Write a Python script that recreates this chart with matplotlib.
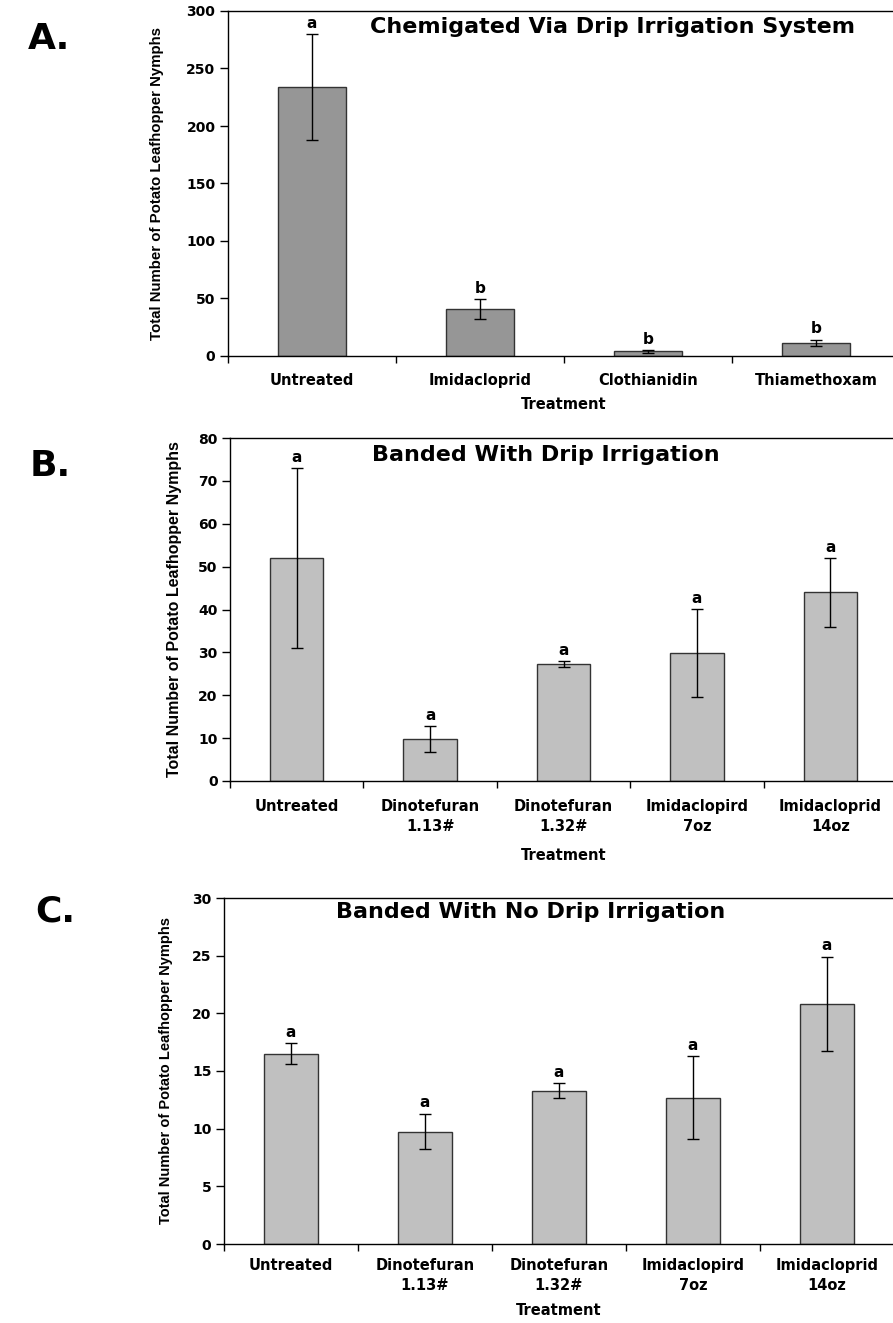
import numpy as np
import matplotlib
matplotlib.use("Agg")
from matplotlib import pyplot as plt

# police large et grasse (le graphique d'origine est etire horizontalement)
plt.rcParams['font.family'] = ['DejaVu Sans']
plt.rcParams['font.weight'] = 'bold'

""" === DONNEES === """
cats_a = ['Untreated', 'Imidacloprid', 'Clothianidin', 'Thiamethoxam']
mean_a = [234, 41, 4, 11.5]
err_a = [46, 8.5, 1.2, 2.5]
let_a = ['a', 'b', 'b', 'b']

cats_bc = ['Untreated', 'Dinotefuran\n1.13#', 'Dinotefuran\n1.32#',
           'Imidaclopird\n7oz', 'Imidacloprid\n14oz']

mean_b = [52, 9.8, 27.2, 29.8, 44]
err_b = [21, 3, 0.7, 10.3, 8]
let_b = ['a', 'a', 'a', 'a', 'a']

mean_c = [16.5, 9.75, 13.3, 12.7, 20.8]
err_c = [0.9, 1.55, 0.65, 3.6, 4.1]
let_c = ['a', 'a', 'a', 'a', 'a']

W, H = 893, 1323
YLAB = 'Total Number of Potato Leafhopper Nymphs'


def box(left, top, right, bottom):
    # pixels -> fraction de figure
    return [left / W, 1 - bottom / H, (right - left) / W, (bottom - top) / H]


def panel(fig, rect, cats, means, errs, letters, ymax, ystep, color,
          title, title_xy, tag, tag_xy, ylab_size, ylab_x, xpad, xlabpad):
    ax = fig.add_axes(rect)
    n = len(cats)
    x = np.arange(n)
    ax.bar(x, means, width=0.4, color=color, edgecolor='#333333', linewidth=1.0, zorder=2)
    ax.errorbar(x, means, yerr=errs, fmt='none', ecolor='black', elinewidth=1.0,
                capsize=4, capthick=1.0, zorder=3)
    for xi, m, e, l in zip(x, means, errs, letters):
        ax.annotate(l, (xi, m + e), xytext=(0, 2.5), textcoords='offset points',
                    ha='center', va='bottom', fontsize=11, fontweight='bold')

    ax.set_xlim(-0.5, n - 0.5)
    ax.set_ylim(0, ymax)
    ax.set_yticks(np.arange(0, ymax + ystep / 2, ystep))
    ax.tick_params(axis='y', direction='out', length=6, width=1, labelsize=10, pad=3)

    ax.set_xticks(np.arange(n + 1) - 0.5)
    ax.set_xticklabels([])
    ax.set_xticks(x, minor=True)
    ax.set_xticklabels(cats, minor=True, fontsize=10.5, fontweight='bold')
    ax.tick_params(axis='x', which='major', direction='out', length=5, width=1)
    ax.tick_params(axis='x', which='minor', length=0, pad=xpad)
    for lab in ax.get_xticklabels(minor=True):
        lab.set_linespacing(1.45)
    for lab in ax.get_yticklabels():
        lab.set_fontweight('bold')

    ax.spines['right'].set_visible(False)
    for s in ['left', 'bottom', 'top']:
        ax.spines[s].set_linewidth(1.0)
        ax.spines[s].set_color('black')

    ax.set_xlabel('Treatment', fontsize=10.5, fontweight='bold', labelpad=xlabpad)

    fig.text(ylab_x / W, rect[1] + rect[3] / 2, YLAB, rotation=90, ha='center', va='center',
             fontsize=ylab_size, fontweight='bold', family=['Liberation Sans', 'DejaVu Sans'])

    fig.text(title_xy[0] / W, 1 - title_xy[1] / H, title, ha='center', va='center',
             fontsize=16, fontweight='bold')
    fig.text(tag_xy[0] / W, 1 - tag_xy[1] / H, tag, ha='center', va='center',
             fontsize=26, fontweight='bold')
    return ax


""" === VISUALISATION === """
fig = plt.figure(figsize=(W / 100, H / 100), dpi=100)

panel(fig, box(228, 11, 900, 356), cats_a, mean_a, err_a, let_a, 300, 50, '#969696',
      'Chemigated Via Drip Irrigation System', (612, 27), 'A.', (49, 39),
      10.8, 157, 12, 7)

panel(fig, box(230, 438, 897, 781), cats_bc, mean_b, err_b, let_b, 80, 10, '#C0C0C0',
      'Banded With Drip Irrigation', (546, 455), 'B.', (50, 466),
      11.5, 175, 13, 10)

panel(fig, box(224, 898, 894, 1244), cats_bc, mean_c, err_c, let_c, 30, 5, '#C0C0C0',
      'Banded With No Drip Irrigation', (531, 912), 'C.', (55, 912),
      10.5, 166, 10, 7)

fig.savefig('out.png', dpi=100)
